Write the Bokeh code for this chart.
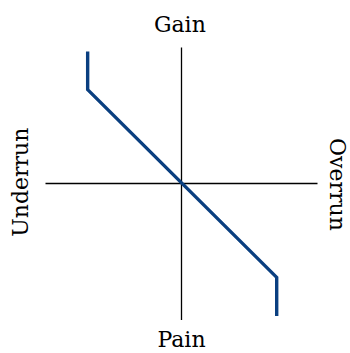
import math
from bokeh.plotting import figure
from bokeh.models import Range1d
from bokeh.embed import file_html
from bokeh.resources import INLINE
from bokeh.core.properties import value

# Data
curve_x = [-0.69, -0.69, 0.70, 0.70]
curve_y = [0.97, 0.69, -0.69, -0.975]
axis_extent = [-1.0, 1.0]
labels = ["Gain", "Pain", "Underrun", "Overrun"]

W, H = 350, 353
cx, cy = 181, 183
scale = 136.0
p = figure(width=W, height=H, output_backend="svg", toolbar_location=None,
           x_range=Range1d(-cx / scale, (W - cx) / scale),
           y_range=Range1d(-(H - cy) / scale, cy / scale),
           min_border=0, tools="")
p.axis.visible = False
p.grid.visible = False
p.outline_line_color = None
p.background_fill_color = "white"
p.border_fill_color = "white"

# axes
p.line(x=axis_extent, y=[0, 0], line_color="black", line_width=1.3)
p.line(x=[0, 0], y=[axis_extent[1], -1.003], line_color="black", line_width=1.3)

# curve
p.line(x=curve_x, y=curve_y, line_color="#0a3f80", line_width=3.4, line_join="miter")

font = value("DejaVu Serif")
fs = "22px"
d = 0.0625
p.text(x=[-0.012], y=[1.105 + d], text=[labels[0]], text_font=font, text_font_size=fs,
       text_align="center", text_baseline="alphabetic", text_color="black")
p.text(x=[0.0], y=[-1.233 + d + 0.02], text=[labels[1]], text_font=font, text_font_size=fs,
       text_align="center", text_baseline="alphabetic", text_color="black")
p.text(x=[-1.123 - d], y=[0.01], text=[labels[2]], angle=[math.pi / 2], text_font=font,
       text_font_size=fs, text_align="center", text_baseline="alphabetic", text_color="black")
p.text(x=[1.083 + d], y=[-0.007], text=[labels[3]], angle=[-math.pi / 2], text_font=font,
       text_font_size=fs, text_align="center", text_baseline="alphabetic", text_color="black")

open("out.html", "w").write(file_html(p, INLINE))
